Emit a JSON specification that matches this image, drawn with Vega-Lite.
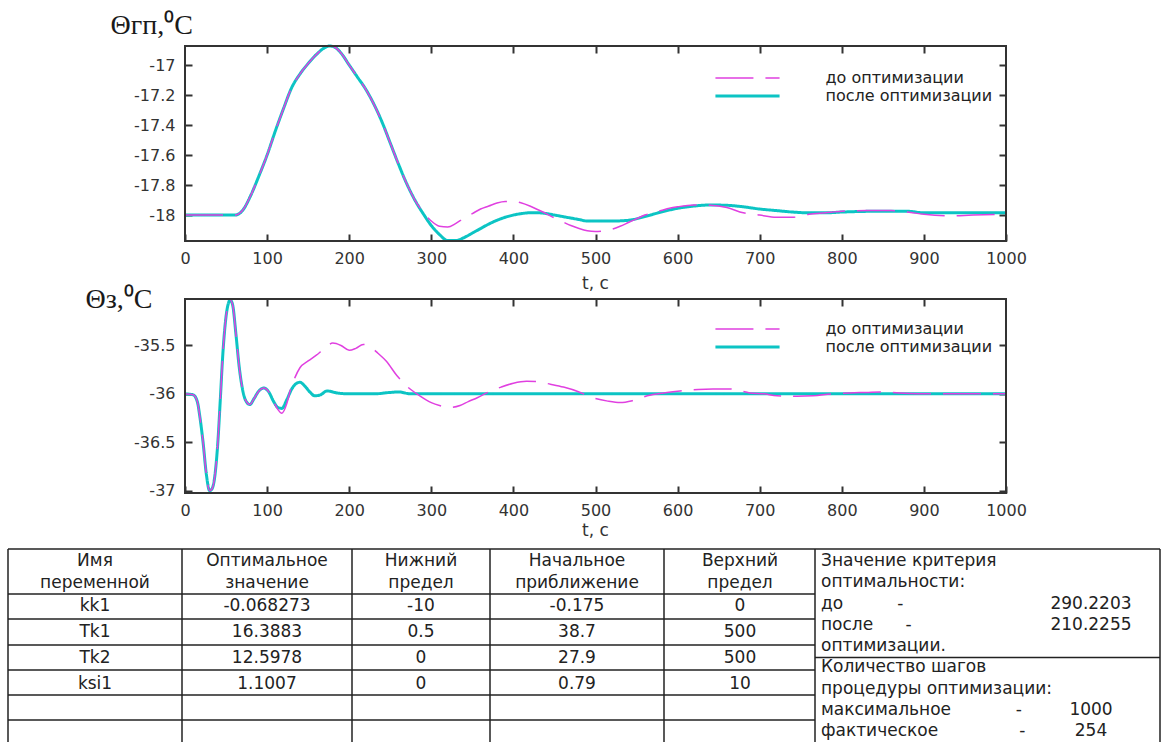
{
"$schema":"https://vega.github.io/schema/vega-lite/v6.json",
"width":1162,"height":742,"autosize":{"type":"none"},"padding":0,"background":"white",
"config":{"view":{"stroke":null},
"axis":{"grid":false,"domain":false,"tickColor":"#333","tickWidth":2,"tickSize":7,"labelFont":"DejaVu Sans","labelFontSize":16,"labelColor":"#333","labelFlush":false,"labelOverlap":false,"titleFont":"DejaVu Sans","titleFontSize":17,"titleFontWeight":"normal","titleColor":"#333"}},
"datasets":{
"gp":[
{"t":0,"v":-18,"s":"после оптимизации"},{"t":30,"v":-18,"s":"после оптимизации"},{"t":61,"v":-18,"s":"после оптимизации"},{"t":70,"v":-17.97,"s":"после оптимизации"},{"t":80,"v":-17.87,"s":"после оптимизации"},{"t":90,"v":-17.74,"s":"после оптимизации"},{"t":100,"v":-17.6,"s":"после оптимизации"},{"t":110,"v":-17.44,"s":"после оптимизации"},{"t":120,"v":-17.29,"s":"после оптимизации"},{"t":130,"v":-17.15,"s":"после оптимизации"},{"t":140,"v":-17.06,"s":"после оптимизации"},{"t":150,"v":-16.99,"s":"после оптимизации"},{"t":160,"v":-16.93,"s":"после оптимизации"},{"t":170,"v":-16.885,"s":"после оптимизации"},{"t":176,"v":-16.873,"s":"после оптимизации"},{"t":182,"v":-16.88,"s":"после оптимизации"},{"t":190,"v":-16.92,"s":"после оптимизации"},{"t":200,"v":-17.0,"s":"после оптимизации"},{"t":210,"v":-17.08,"s":"после оптимизации"},{"t":220,"v":-17.16,"s":"после оптимизации"},{"t":230,"v":-17.26,"s":"после оптимизации"},{"t":240,"v":-17.38,"s":"после оптимизации"},{"t":250,"v":-17.52,"s":"после оптимизации"},{"t":260,"v":-17.66,"s":"после оптимизации"},{"t":270,"v":-17.79,"s":"после оптимизации"},{"t":280,"v":-17.9,"s":"после оптимизации"},{"t":290,"v":-17.99,"s":"после оптимизации"},{"t":300,"v":-18.07,"s":"после оптимизации"},{"t":310,"v":-18.13,"s":"после оптимизации"},{"t":320,"v":-18.17,"s":"после оптимизации"},{"t":330,"v":-18.17,"s":"после оптимизации"},{"t":340,"v":-18.15,"s":"после оптимизации"},{"t":350,"v":-18.12,"s":"после оптимизации"},{"t":360,"v":-18.09,"s":"после оптимизации"},{"t":370,"v":-18.06,"s":"после оптимизации"},{"t":380,"v":-18.035,"s":"после оптимизации"},{"t":390,"v":-18.015,"s":"после оптимизации"},{"t":400,"v":-18.0,"s":"после оптимизации"},{"t":410,"v":-17.99,"s":"после оптимизации"},{"t":420,"v":-17.985,"s":"после оптимизации"},{"t":430,"v":-17.985,"s":"после оптимизации"},{"t":440,"v":-17.99,"s":"после оптимизации"},{"t":450,"v":-18.0,"s":"после оптимизации"},{"t":460,"v":-18.01,"s":"после оптимизации"},{"t":470,"v":-18.02,"s":"после оптимизации"},{"t":480,"v":-18.03,"s":"после оптимизации"},{"t":490,"v":-18.04,"s":"после оптимизации"},{"t":500,"v":-18.04,"s":"после оптимизации"},{"t":520,"v":-18.04,"s":"после оптимизации"},{"t":540,"v":-18.035,"s":"после оптимизации"},{"t":560,"v":-18.01,"s":"после оптимизации"},{"t":580,"v":-17.98,"s":"после оптимизации"},{"t":600,"v":-17.955,"s":"после оптимизации"},{"t":620,"v":-17.94,"s":"после оптимизации"},{"t":640,"v":-17.933,"s":"после оптимизации"},{"t":660,"v":-17.935,"s":"после оптимизации"},{"t":680,"v":-17.945,"s":"после оптимизации"},{"t":700,"v":-17.96,"s":"после оптимизации"},{"t":720,"v":-17.97,"s":"после оптимизации"},{"t":740,"v":-17.98,"s":"после оптимизации"},{"t":760,"v":-17.985,"s":"после оптимизации"},{"t":780,"v":-17.985,"s":"после оптимизации"},{"t":800,"v":-17.98,"s":"после оптимизации"},{"t":840,"v":-17.975,"s":"после оптимизации"},{"t":880,"v":-17.975,"s":"после оптимизации"},{"t":900,"v":-17.985,"s":"после оптимизации"},{"t":950,"v":-17.985,"s":"после оптимизации"},{"t":1000,"v":-17.985,"s":"после оптимизации"},
{"t":0,"v":-18,"s":"до оптимизации"},{"t":30,"v":-18,"s":"до оптимизации"},{"t":61,"v":-18,"s":"до оптимизации"},{"t":70,"v":-17.97,"s":"до оптимизации"},{"t":80,"v":-17.87,"s":"до оптимизации"},{"t":90,"v":-17.74,"s":"до оптимизации"},{"t":100,"v":-17.6,"s":"до оптимизации"},{"t":110,"v":-17.44,"s":"до оптимизации"},{"t":120,"v":-17.29,"s":"до оптимизации"},{"t":130,"v":-17.15,"s":"до оптимизации"},{"t":140,"v":-17.06,"s":"до оптимизации"},{"t":150,"v":-16.99,"s":"до оптимизации"},{"t":160,"v":-16.93,"s":"до оптимизации"},{"t":170,"v":-16.885,"s":"до оптимизации"},{"t":176,"v":-16.873,"s":"до оптимизации"},{"t":182,"v":-16.88,"s":"до оптимизации"},{"t":190,"v":-16.92,"s":"до оптимизации"},{"t":200,"v":-17.0,"s":"до оптимизации"},{"t":210,"v":-17.08,"s":"до оптимизации"},{"t":220,"v":-17.16,"s":"до оптимизации"},{"t":230,"v":-17.26,"s":"до оптимизации"},{"t":240,"v":-17.38,"s":"до оптимизации"},{"t":250,"v":-17.52,"s":"до оптимизации"},{"t":260,"v":-17.66,"s":"до оптимизации"},{"t":270,"v":-17.79,"s":"до оптимизации"},{"t":280,"v":-17.9,"s":"до оптимизации"},{"t":290,"v":-17.98,"s":"до оптимизации"},{"t":300,"v":-18.04,"s":"до оптимизации"},{"t":310,"v":-18.075,"s":"до оптимизации"},{"t":320,"v":-18.08,"s":"до оптимизации"},{"t":330,"v":-18.055,"s":"до оптимизации"},{"t":340,"v":-18.02,"s":"до оптимизации"},{"t":350,"v":-17.99,"s":"до оптимизации"},{"t":360,"v":-17.96,"s":"до оптимизации"},{"t":370,"v":-17.94,"s":"до оптимизации"},{"t":380,"v":-17.92,"s":"до оптимизации"},{"t":390,"v":-17.91,"s":"до оптимизации"},{"t":400,"v":-17.91,"s":"до оптимизации"},{"t":410,"v":-17.92,"s":"до оптимизации"},{"t":420,"v":-17.94,"s":"до оптимизации"},{"t":430,"v":-17.965,"s":"до оптимизации"},{"t":440,"v":-17.99,"s":"до оптимизации"},{"t":450,"v":-18.02,"s":"до оптимизации"},{"t":460,"v":-18.045,"s":"до оптимизации"},{"t":470,"v":-18.07,"s":"до оптимизации"},{"t":480,"v":-18.09,"s":"до оптимизации"},{"t":490,"v":-18.105,"s":"до оптимизации"},{"t":500,"v":-18.11,"s":"до оптимизации"},{"t":510,"v":-18.105,"s":"до оптимизации"},{"t":520,"v":-18.095,"s":"до оптимизации"},{"t":530,"v":-18.075,"s":"до оптимизации"},{"t":540,"v":-18.05,"s":"до оптимизации"},{"t":550,"v":-18.025,"s":"до оптимизации"},{"t":560,"v":-18.0,"s":"до оптимизации"},{"t":570,"v":-17.985,"s":"до оптимизации"},{"t":580,"v":-17.97,"s":"до оптимизации"},{"t":590,"v":-17.955,"s":"до оптимизации"},{"t":600,"v":-17.945,"s":"до оптимизации"},{"t":620,"v":-17.933,"s":"до оптимизации"},{"t":640,"v":-17.935,"s":"до оптимизации"},{"t":660,"v":-17.95,"s":"до оптимизации"},{"t":680,"v":-17.985,"s":"до оптимизации"},{"t":700,"v":-18.0,"s":"до оптимизации"},{"t":720,"v":-18.015,"s":"до оптимизации"},{"t":740,"v":-18.015,"s":"до оптимизации"},{"t":760,"v":-17.995,"s":"до оптимизации"},{"t":780,"v":-17.985,"s":"до оптимизации"},{"t":800,"v":-17.975,"s":"до оптимизации"},{"t":830,"v":-17.97,"s":"до оптимизации"},{"t":860,"v":-17.97,"s":"до оптимизации"},{"t":880,"v":-17.98,"s":"до оптимизации"},{"t":900,"v":-17.995,"s":"до оптимизации"},{"t":930,"v":-18.005,"s":"до оптимизации"},{"t":960,"v":-18.0,"s":"до оптимизации"},{"t":1000,"v":-17.995,"s":"до оптимизации"}
],
"gz":[
{"t":0,"v":-36,"s":"после оптимизации"},{"t":10,"v":-36.01,"s":"после оптимизации"},{"t":15,"v":-36.08,"s":"после оптимизации"},{"t":18,"v":-36.23,"s":"после оптимизации"},{"t":22,"v":-36.5,"s":"после оптимизации"},{"t":26,"v":-36.83,"s":"после оптимизации"},{"t":30,"v":-37.0,"s":"после оптимизации"},{"t":33,"v":-36.98,"s":"после оптимизации"},{"t":36,"v":-36.87,"s":"после оптимизации"},{"t":40,"v":-36.5,"s":"после оптимизации"},{"t":43,"v":-36.06,"s":"после оптимизации"},{"t":46,"v":-35.6,"s":"после оптимизации"},{"t":50,"v":-35.2,"s":"после оптимизации"},{"t":53,"v":-35.06,"s":"после оптимизации"},{"t":55,"v":-35.03,"s":"после оптимизации"},{"t":58,"v":-35.08,"s":"после оптимизации"},{"t":62,"v":-35.38,"s":"после оптимизации"},{"t":66,"v":-35.72,"s":"после оптимизации"},{"t":70,"v":-35.95,"s":"после оптимизации"},{"t":74,"v":-36.07,"s":"после оптимизации"},{"t":79,"v":-36.11,"s":"после оптимизации"},{"t":84,"v":-36.05,"s":"после оптимизации"},{"t":90,"v":-35.97,"s":"после оптимизации"},{"t":96,"v":-35.94,"s":"после оптимизации"},{"t":102,"v":-35.98,"s":"после оптимизации"},{"t":108,"v":-36.08,"s":"после оптимизации"},{"t":113,"v":-36.14,"s":"после оптимизации"},{"t":118,"v":-36.15,"s":"после оптимизации"},{"t":124,"v":-36.06,"s":"после оптимизации"},{"t":130,"v":-35.95,"s":"после оптимизации"},{"t":136,"v":-35.89,"s":"после оптимизации"},{"t":140,"v":-35.88,"s":"после оптимизации"},{"t":146,"v":-35.92,"s":"после оптимизации"},{"t":152,"v":-35.98,"s":"после оптимизации"},{"t":158,"v":-36.02,"s":"после оптимизации"},{"t":165,"v":-36.01,"s":"после оптимизации"},{"t":173,"v":-35.97,"s":"после оптимизации"},{"t":185,"v":-35.99,"s":"после оптимизации"},{"t":200,"v":-36.0,"s":"после оптимизации"},{"t":230,"v":-36.0,"s":"после оптимизации"},{"t":250,"v":-35.985,"s":"после оптимизации"},{"t":260,"v":-35.98,"s":"после оптимизации"},{"t":275,"v":-36.0,"s":"после оптимизации"},{"t":300,"v":-36.0,"s":"после оптимизации"},{"t":400,"v":-36.0,"s":"после оптимизации"},{"t":500,"v":-36.0,"s":"после оптимизации"},{"t":600,"v":-36.0,"s":"после оптимизации"},{"t":700,"v":-36.0,"s":"после оптимизации"},{"t":800,"v":-36.0,"s":"после оптимизации"},{"t":900,"v":-36.0,"s":"после оптимизации"},{"t":1000,"v":-36.0,"s":"после оптимизации"},
{"t":0,"v":-36,"s":"до оптимизации"},{"t":10,"v":-36.01,"s":"до оптимизации"},{"t":15,"v":-36.08,"s":"до оптимизации"},{"t":18,"v":-36.23,"s":"до оптимизации"},{"t":22,"v":-36.5,"s":"до оптимизации"},{"t":26,"v":-36.83,"s":"до оптимизации"},{"t":30,"v":-37.0,"s":"до оптимизации"},{"t":33,"v":-36.98,"s":"до оптимизации"},{"t":36,"v":-36.87,"s":"до оптимизации"},{"t":40,"v":-36.5,"s":"до оптимизации"},{"t":43,"v":-36.06,"s":"до оптимизации"},{"t":46,"v":-35.6,"s":"до оптимизации"},{"t":50,"v":-35.2,"s":"до оптимизации"},{"t":53,"v":-35.06,"s":"до оптимизации"},{"t":55,"v":-35.03,"s":"до оптимизации"},{"t":58,"v":-35.08,"s":"до оптимизации"},{"t":62,"v":-35.38,"s":"до оптимизации"},{"t":66,"v":-35.72,"s":"до оптимизации"},{"t":70,"v":-35.95,"s":"до оптимизации"},{"t":74,"v":-36.07,"s":"до оптимизации"},{"t":79,"v":-36.11,"s":"до оптимизации"},{"t":84,"v":-36.05,"s":"до оптимизации"},{"t":90,"v":-35.97,"s":"до оптимизации"},{"t":96,"v":-35.94,"s":"до оптимизации"},{"t":102,"v":-35.98,"s":"до оптимизации"},{"t":108,"v":-36.08,"s":"до оптимизации"},{"t":113,"v":-36.16,"s":"до оптимизации"},{"t":118,"v":-36.2,"s":"до оптимизации"},{"t":124,"v":-36.1,"s":"до оптимизации"},{"t":128,"v":-35.97,"s":"до оптимизации"},{"t":134,"v":-35.83,"s":"до оптимизации"},{"t":140,"v":-35.73,"s":"до оптимизации"},{"t":150,"v":-35.66,"s":"до оптимизации"},{"t":160,"v":-35.6,"s":"до оптимизации"},{"t":170,"v":-35.53,"s":"до оптимизации"},{"t":180,"v":-35.475,"s":"до оптимизации"},{"t":190,"v":-35.5,"s":"до оптимизации"},{"t":200,"v":-35.55,"s":"до оптимизации"},{"t":208,"v":-35.53,"s":"до оптимизации"},{"t":217,"v":-35.49,"s":"до оптимизации"},{"t":225,"v":-35.51,"s":"до оптимизации"},{"t":235,"v":-35.58,"s":"до оптимизации"},{"t":245,"v":-35.66,"s":"до оптимизации"},{"t":258,"v":-35.81,"s":"до оптимизации"},{"t":270,"v":-35.92,"s":"до оптимизации"},{"t":286,"v":-36.02,"s":"до оптимизации"},{"t":300,"v":-36.09,"s":"до оптимизации"},{"t":310,"v":-36.12,"s":"до оптимизации"},{"t":323,"v":-36.14,"s":"до оптимизации"},{"t":335,"v":-36.12,"s":"до оптимизации"},{"t":345,"v":-36.08,"s":"до оптимизации"},{"t":356,"v":-36.04,"s":"до оптимизации"},{"t":370,"v":-35.98,"s":"до оптимизации"},{"t":385,"v":-35.93,"s":"до оптимизации"},{"t":400,"v":-35.89,"s":"до оптимизации"},{"t":416,"v":-35.87,"s":"до оптимизации"},{"t":430,"v":-35.875,"s":"до оптимизации"},{"t":445,"v":-35.9,"s":"до оптимизации"},{"t":461,"v":-35.93,"s":"до оптимизации"},{"t":480,"v":-35.98,"s":"до оптимизации"},{"t":497,"v":-36.04,"s":"до оптимизации"},{"t":515,"v":-36.075,"s":"до оптимизации"},{"t":530,"v":-36.09,"s":"до оптимизации"},{"t":545,"v":-36.07,"s":"до оптимизации"},{"t":563,"v":-36.02,"s":"до оптимизации"},{"t":583,"v":-35.99,"s":"до оптимизации"},{"t":603,"v":-35.97,"s":"до оптимизации"},{"t":625,"v":-35.955,"s":"до оптимизации"},{"t":643,"v":-35.95,"s":"до оптимизации"},{"t":664,"v":-35.95,"s":"до оптимизации"},{"t":688,"v":-35.99,"s":"до оптимизации"},{"t":705,"v":-36.0,"s":"до оптимизации"},{"t":721,"v":-36.02,"s":"до оптимизации"},{"t":745,"v":-36.025,"s":"до оптимизации"},{"t":765,"v":-36.02,"s":"до оптимизации"},{"t":788,"v":-36.0,"s":"до оптимизации"},{"t":810,"v":-35.99,"s":"до оптимизации"},{"t":830,"v":-35.985,"s":"до оптимизации"},{"t":847,"v":-35.98,"s":"до оптимизации"},{"t":870,"v":-35.99,"s":"до оптимизации"},{"t":911,"v":-36.0,"s":"до оптимизации"},{"t":950,"v":-36.0,"s":"до оптимизации"},{"t":1000,"v":-36.0,"s":"до оптимизации"}
],
"cells":[
{"row":0,"col":0,"text":"Имя"},{"row":0,"col":1,"text":"Оптимальное"},{"row":0,"col":2,"text":"Нижний"},{"row":0,"col":3,"text":"Начальное"},{"row":0,"col":4,"text":"Верхний"},
{"row":1,"col":0,"text":"переменной"},{"row":1,"col":1,"text":"значение"},{"row":1,"col":2,"text":"предел"},{"row":1,"col":3,"text":"приближение"},{"row":1,"col":4,"text":"предел"},
{"row":2,"col":0,"text":"kk1"},{"row":2,"col":1,"text":"-0.068273"},{"row":2,"col":2,"text":"-10"},{"row":2,"col":3,"text":"-0.175"},{"row":2,"col":4,"text":"0"},
{"row":3,"col":0,"text":"Tk1"},{"row":3,"col":1,"text":"16.3883"},{"row":3,"col":2,"text":"0.5"},{"row":3,"col":3,"text":"38.7"},{"row":3,"col":4,"text":"500"},
{"row":4,"col":0,"text":"Tk2"},{"row":4,"col":1,"text":"12.5978"},{"row":4,"col":2,"text":"0"},{"row":4,"col":3,"text":"27.9"},{"row":4,"col":4,"text":"500"},
{"row":5,"col":0,"text":"ksi1"},{"row":5,"col":1,"text":"1.1007"},{"row":5,"col":2,"text":"0"},{"row":5,"col":3,"text":"0.79"},{"row":5,"col":4,"text":"10"}
],
"vlines":[{"c":0},{"c":1},{"c":2},{"c":3},{"c":4},{"c":5},{"c":6}],
"hlines":[{"r":0,"c0":0,"c1":6},{"r":1,"c0":0,"c1":5},{"r":2,"c0":0,"c1":5},{"r":3,"c0":0,"c1":5},{"r":4,"c0":0,"c1":5},{"r":5,"c0":0,"c1":5},{"r":6,"c0":0,"c1":5},{"r":3.5,"c0":5,"c1":6}],
"panel":[
{"line":0,"label":"Значение критерия","value":""},
{"line":1,"label":"оптимальности:","value":""},
{"line":2,"label":"до\u00a0\u00a0\u00a0\u00a0\u00a0\u00a0\u00a0\u00a0\u00a0\u00a0-","value":"290.2203"},
{"line":3,"label":"после\u00a0\u00a0\u00a0\u00a0\u00a0\u00a0-","value":"210.2255"},
{"line":4,"label":"оптимизации.","value":""},
{"line":5,"label":"Количество шагов","value":""},
{"line":6,"label":"процедуры оптимизации:","value":""},
{"line":7,"label":"максимальное\u00a0\u00a0\u00a0\u00a0\u00a0\u00a0\u00a0\u00a0\u00a0\u00a0\u00a0\u00a0-","value":"1000"},
{"line":8,"label":"фактическое\u00a0\u00a0\u00a0\u00a0\u00a0\u00a0\u00a0\u00a0\u00a0\u00a0\u00a0\u00a0\u00a0\u00a0\u00a0-","value":"254"}
],
"one":[{}]
},
"layer":[
{"data":{"name":"gp"},"mark":{"type":"line","interpolate":"monotone"},
"encoding":{
"x":{"field":"t","type":"quantitative","scale":{"domain":[0,1000],"range":[185,1006],"nice":false,"zero":false},
"axis":{"orient":"bottom","offset":-508,"values":[0,100,200,300,400,500,600,700,800,900,1000],"labelPadding":9,"labelExpr":"'' + datum.value","title":"t, c","titleX":595,"titleY":49,"titleBaseline":"middle"}},
"y":{"field":"v","type":"quantitative","scale":{"domain":[-18.173,-16.873],"range":[241,46],"nice":false,"zero":false},
"axis":{"orient":"left","offset":-192,"values":[-18,-17.8,-17.6,-17.4,-17.2,-17],"labelPadding":10,"labelExpr":"'' + datum.value","title":"Θгп,⁰C","titleAngle":0,"titleX":-82,"titleY":25,"titleAlign":"left","titleBaseline":"middle","titleFont":"Liberation Serif","titleFontSize":28,"titleColor":"#1a1a1a"}},
"color":{"field":"s","type":"nominal","scale":{"domain":["до оптимизации","после оптимизации"],"range":["#e040e0","#0cc4c4"]},
"legend":{"orient":"none","legendX":739.5,"legendY":70,"title":null,"direction":"vertical","symbolType":"M-11,0H11","symbolSize":34,"labelOffset":70,"labelLimit":0,"labelFont":"DejaVu Sans","labelFontSize":16,"labelColor":"#222","rowPadding":2,"padding":0}},
"strokeDash":{"field":"s","type":"nominal","scale":{"domain":["до оптимизации","после оптимизации"],"range":[[38,12],[1,0]]}},
"strokeWidth":{"field":"s","type":"nominal","scale":{"domain":["до оптимизации","после оптимизации"],"range":[1.5,3]}}
}},
{"data":{"name":"one"},"mark":{"type":"rect","fill":"transparent","stroke":"#333","strokeWidth":2},
"encoding":{
"x":{"datum":0,"type":"quantitative","scale":{"domain":[0,1000],"range":[185,1006],"nice":false,"zero":false},"axis":{"orient":"top","offset":-53,"values":[100,200,300,400,500,600,700,800,900],"labels":false,"title":null}},
"x2":{"datum":1000},
"y":{"datum":-18.173,"type":"quantitative","scale":{"domain":[-18.173,-16.873],"range":[241,46],"nice":false,"zero":false},"axis":{"orient":"right","offset":-163,"values":[-18,-17.8,-17.6,-17.4,-17.2,-17],"labels":false,"title":null}},
"y2":{"datum":-16.873}
}},
{"data":{"name":"gz"},"mark":{"type":"line","interpolate":"monotone"},
"encoding":{
"x":{"field":"t","type":"quantitative","scale":{"domain":[0,1000],"range":[185,1006],"nice":false,"zero":false},
"axis":{"orient":"bottom","offset":-256,"values":[0,100,200,300,400,500,600,700,800,900,1000],"labelPadding":9,"labelExpr":"'' + datum.value","title":"t, c","titleX":595,"titleY":44,"titleBaseline":"middle"}},
"y":{"field":"v","type":"quantitative","scale":{"domain":[-37.024,-35.02],"range":[493,299],"nice":false,"zero":false},
"axis":{"orient":"left","offset":-192,"values":[-37,-36.5,-36,-35.5],"labelPadding":10,"labelExpr":"'' + datum.value","title":"Θз,⁰C","titleAngle":0,"titleX":-107,"titleY":299,"titleAlign":"left","titleBaseline":"middle","titleFont":"Liberation Serif","titleFontSize":28,"titleColor":"#1a1a1a"}},
"color":{"field":"s","type":"nominal","scale":{"domain":["до оптимизации","после оптимизации"],"range":["#e040e0","#0cc4c4"]},
"legend":{"orient":"none","legendX":739.5,"legendY":321,"title":null,"direction":"vertical","symbolType":"M-11,0H11","symbolSize":34,"labelOffset":70,"labelLimit":0,"labelFont":"DejaVu Sans","labelFontSize":16,"labelColor":"#222","rowPadding":2,"padding":0}},
"strokeDash":{"field":"s","type":"nominal","scale":{"domain":["до оптимизации","после оптимизации"],"range":[[38,12],[1,0]]}},
"strokeWidth":{"field":"s","type":"nominal","scale":{"domain":["до оптимизации","после оптимизации"],"range":[1.5,3]}}
}},
{"data":{"name":"one"},"mark":{"type":"rect","fill":"transparent","stroke":"#333","strokeWidth":2},
"encoding":{
"x":{"datum":0,"type":"quantitative","scale":{"domain":[0,1000],"range":[185,1006],"nice":false,"zero":false},"axis":{"orient":"top","offset":-306,"values":[100,200,300,400,500,600,700,800,900],"labels":false,"title":null}},
"x2":{"datum":1000},
"y":{"datum":-37.024,"type":"quantitative","scale":{"domain":[-37.024,-35.02],"range":[493,299],"nice":false,"zero":false},"axis":{"orient":"right","offset":-163,"values":[-37,-36.5,-36,-35.5],"labels":false,"title":null}},
"y2":{"datum":-35.02}
}},
{"data":{"name":"vlines"},"mark":{"type":"rule","stroke":"#222","strokeWidth":1.5},
"encoding":{
"x":{"field":"c","type":"quantitative","scale":{"domain":[0,1,2,3,4,5,6],"range":[8,182,352,490,664,815,1160],"nice":false,"zero":false},"axis":null},
"y":{"datum":0,"type":"quantitative","scale":{"domain":[0,1,2,3,4,5,6,7],"range":[549,594,619,645,670,695,720,745],"nice":false,"zero":false},"axis":null},
"y2":{"datum":7}
}},
{"data":{"name":"hlines"},"mark":{"type":"rule","stroke":"#222","strokeWidth":1.5},
"encoding":{
"x":{"field":"c0","type":"quantitative","scale":{"domain":[0,1,2,3,4,5,6],"range":[8,182,352,490,664,815,1160],"nice":false,"zero":false},"axis":null},
"x2":{"field":"c1"},
"y":{"field":"r","type":"quantitative","scale":{"domain":[0,1,2,3,4,5,6,7],"range":[549,594,619,645,670,695,720,745],"nice":false,"zero":false},"axis":null}
}},
{"data":{"name":"cells"},"mark":{"type":"text","align":"center","baseline":"middle","font":"DejaVu Sans","fontSize":17,"color":"#222"},
"encoding":{
"x":{"field":"col","type":"quantitative","scale":{"domain":[0,1,2,3,4],"range":[95,267,421,577,740],"nice":false,"zero":false},"axis":null},
"y":{"field":"row","type":"quantitative","scale":{"domain":[0,1,2,5],"range":[561,583,606,684],"nice":false,"zero":false},"axis":null},
"text":{"field":"text"}
}},
{"data":{"name":"panel"},"mark":{"type":"text","align":"left","baseline":"middle","dx":6,"font":"DejaVu Sans","fontSize":17,"color":"#222"},
"encoding":{
"x":{"datum":5,"type":"quantitative","scale":{"domain":[0,1,2,3,4,5,6],"range":[8,182,352,490,664,815,1160],"nice":false,"zero":false},"axis":null},
"y":{"field":"line","type":"quantitative","scale":{"domain":[0,8],"range":[561,731],"nice":false,"zero":false},"axis":null},
"text":{"field":"label"}
}},
{"data":{"name":"panel"},"transform":[{"filter":"datum.value != ''"}],"mark":{"type":"text","align":"center","baseline":"middle","dx":-69,"font":"DejaVu Sans","fontSize":17,"color":"#222"},
"encoding":{
"x":{"datum":6,"type":"quantitative","scale":{"domain":[0,1,2,3,4,5,6],"range":[8,182,352,490,664,815,1160],"nice":false,"zero":false},"axis":null},
"y":{"field":"line","type":"quantitative","scale":{"domain":[0,8],"range":[561,731],"nice":false,"zero":false},"axis":null},
"text":{"field":"value"}
}}
],
"resolve":{"scale":{"x":"independent","y":"independent","color":"independent","strokeDash":"independent","strokeWidth":"independent"},"axis":{"x":"independent","y":"independent"}}
}
